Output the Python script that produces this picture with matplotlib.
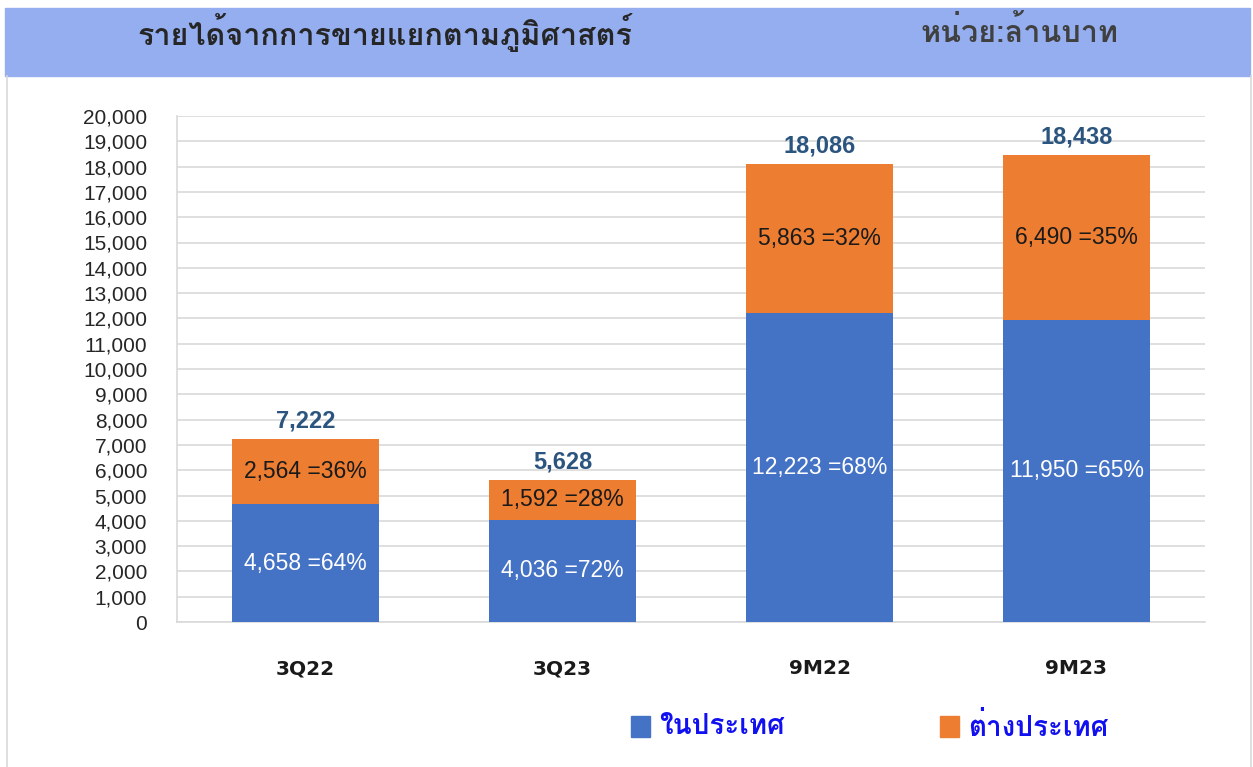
import matplotlib
matplotlib.use("Agg")
import matplotlib.pyplot as plt
from matplotlib import font_manager
from matplotlib.ft2font import FT2Font
from matplotlib.patches import Rectangle

# ข้อมูล (ล้านบาท)
periods = ["3Q22", "3Q23", "9M22", "9M23"]
domestic = [4658, 4036, 12223, 11950]
overseas = [2564, 1592, 5863, 6490]
totals = [7222, 5628, 18086, 18438]
dom_pct = [64, 72, 68, 65]
ovs_pct = [36, 28, 32, 35]

title = "รายได้จากการขายแยกตามภูมิศาสตร์"
unit = "หน่วย:ล้านบาท"
legend_labels = ["ในประเทศ", "ต่างประเทศ"]

BLUE = "#4472C4"
ORANGE = "#ED7D31"


def find_thai_font():
    names = []
    for f in font_manager.fontManager.ttflist:
        try:
            if 0x0E23 in FT2Font(f.fname).get_charmap():
                names.append(f.name)
        except Exception:
            pass
    return names[0] if names else "DejaVu Sans"


thai = find_thai_font()
plt.rcParams["font.family"] = [thai, "DejaVu Sans"]

fig = plt.figure(figsize=(12.53, 7.67), dpi=100)
W, H = 1253, 767

# แถบหัวเรื่อง
fig.patches.append(Rectangle((5 / W, 1 - 76 / H), 1245 / W, 68 / H,
                             transform=fig.transFigure, color="#94AEEF", zorder=0))
for x in (7, 1251):
    fig.add_artist(plt.Line2D([x / W, x / W], [0, 1 - 76 / H],
                              color="#D9D9D9", lw=1.2))
fig.text(385 / W, 1 - 32 / H, title, ha="center", va="center",
         fontsize=22, fontweight="bold", color="#262626")
fig.text(1020 / W, 1 - 32 / H, unit, ha="center", va="center",
         fontsize=22, fontweight="bold", color="#404040")

ax = fig.add_axes([177 / W, 1 - 622 / H, (1205 - 177) / W, (622 - 116) / H])
x = range(len(periods))
ax.bar(x, domestic, width=0.57, color=BLUE, zorder=3)
ax.bar(x, overseas, width=0.57, bottom=domestic, color=ORANGE, zorder=3)

for i in x:
    ax.text(i, domestic[i] / 2, f"{domestic[i]:,} ={dom_pct[i]}%", ha="center",
            va="center", color="white", fontsize=16.5, family="Liberation Sans", zorder=4)
    ax.text(i, domestic[i] + overseas[i] / 2, f"{overseas[i]:,} ={ovs_pct[i]}%",
            ha="center", va="center", color="#1a1a1a", fontsize=16.5,
            family="Liberation Sans", zorder=4)
    ax.annotate(f"{totals[i]:,}", (i, totals[i]), xytext=(0, 13),
                textcoords="offset points", ha="center", va="center",
                color="#2B557F", fontsize=17, fontweight="bold",
                family="Liberation Sans", zorder=4)

ax.set_xlim(-0.5, 3.5)
ax.set_ylim(0, 20000)
ax.set_yticks(range(0, 20001, 1000))
ax.set_yticklabels([f"{v:,}" for v in range(0, 20001, 1000)],
                   family="Liberation Sans", fontsize=15, color="#262626")
ax.yaxis.grid(True, color="#D9D9D9", lw=1.2, zorder=0)
ax.tick_params(axis="y", length=0, pad=21.5)
ax.tick_params(axis="x", length=0, pad=27)
ax.set_xticks(list(x))
ax.set_xticklabels(periods, fontsize=14.5, fontweight="bold",
                   family="DejaVu Sans", color="#1a1a1a")
for s in ("top", "right"):
    ax.spines[s].set_visible(False)
ax.spines["left"].set_color("#D9D9D9")
ax.spines["bottom"].set_color("#D9D9D9")
ax.spines["left"].set_linewidth(1.2)
ax.spines["bottom"].set_linewidth(1.2)

# คำอธิบายสัญลักษณ์
for xs, col, lab in ((631, BLUE, legend_labels[0]), (940, ORANGE, legend_labels[1])):
    fig.patches.append(Rectangle((xs / W, 1 - 737 / H), 19 / W, 21 / H,
                                 transform=fig.transFigure, color=col))
    fig.text((xs + 28) / W, 1 - 726 / H, lab, ha="left", va="center",
             fontsize=20, fontweight="bold", color="#1010F0")

fig.savefig("out.png", dpi=100)
